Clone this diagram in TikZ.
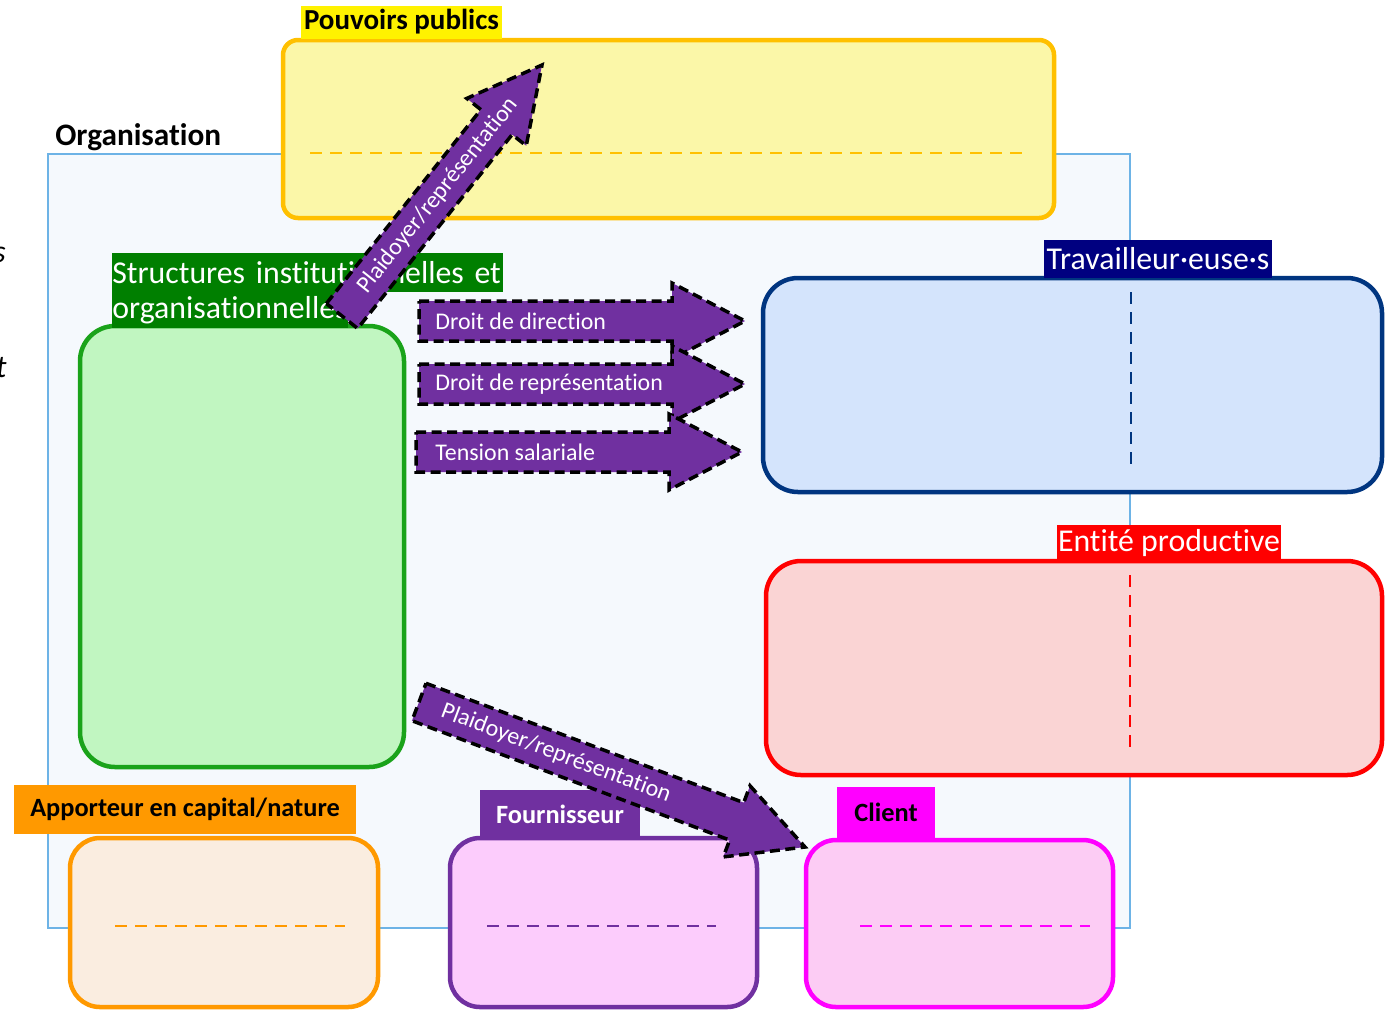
\documentclass[tikz,border=0pt]{standalone}
\usepackage{fontspec}
\setmainfont{Carlito}[Ligatures=NoCommon]
\usepackage{xcolor}
\usetikzlibrary{calc,fit,positioning}
\definecolor{OrgFill}{HTML}{F5F9FD}
\definecolor{OrgLine}{HTML}{6DB3E6}
\definecolor{PouvoirsLine}{HTML}{FFC000}
\definecolor{PouvoirsFill}{HTML}{FBF7A8}
\definecolor{StructLine}{HTML}{1AA31A}
\definecolor{StructFill}{HTML}{C1F6C1}
\definecolor{StructTag}{HTML}{007F00}
\definecolor{TravLine}{HTML}{003580}
\definecolor{TravFill}{HTML}{D4E4FC}
\definecolor{TravTag}{HTML}{000080}
\definecolor{EntLine}{HTML}{FF0000}
\definecolor{EntFill}{HTML}{FAD4D4}
\definecolor{AppLine}{HTML}{FF9900}
\definecolor{AppFill}{HTML}{FAEDE0}
\definecolor{FourLine}{HTML}{7030A0}
\definecolor{FourFill}{HTML}{FCCCFC}
\definecolor{ClientLine}{HTML}{FF00FF}
\definecolor{ClientFill}{HTML}{FCCCF4}
\colorlet{ArrowFill}{FourLine}
\newcommand{\ArrowBody}{4mm}
\newcommand{\ArrowHead}{7.6mm}
\newcommand{\ArrowTipLen}{14.6mm}
\newcommand{\PlaceBox}[6]{%
  % #1 name, #2-#3 top left, #4-#5 bottom right, #6 style
  \node[#6,fit={(#2,#3) (#4,#5)}] (#1) {};
}
\newcommand{\BlockArrow}[3]{%
  % #1 prefix, #2 tail, #3 tip
  \coordinate (#1head) at ($(#3)!\ArrowTipLen!(#2)$);
  \filldraw[blockarrow] ($(#2)!\ArrowBody!90:(#3)$) -- ($(#1head)!\ArrowBody!90:(#3)$)
    -- ($(#1head)!\ArrowHead!90:(#3)$) -- (#3) -- ($(#1head)!\ArrowHead!-90:(#3)$)
    -- ($(#1head)!\ArrowBody!-90:(#3)$) -- ($(#2)!\ArrowBody!-90:(#3)$) -- cycle;
}

\begin{document}
\begin{tikzpicture}[
  x=0.2mm, y=-0.2mm,
  actor/.style={line width=0.9mm,rounded corners=7mm,inner sep=0pt},
  tagbox/.style={inner sep=0pt,font=\bfseries\fontsize{15}{18}\selectfont},
  bigtag/.style={inner sep=0pt,text=white,font=\fontsize{18.1}{22}\selectfont},
  dashline/.style={line width=0.4mm,dash pattern=on 2.4mm off 1.6mm},
  blockarrow/.style={fill=ArrowFill,draw=black,line width=0.7mm,dash pattern=on 2mm off 1.1mm},
  arrowtext/.style={inner sep=0pt,text=white,font=\fontsize{13.6}{16}\selectfont}
]
\useasboundingbox (0,0) rectangle (1398,1011);

% Cut-off text at the left edge
\node[inner sep=0pt,anchor=base east,font=\itshape\fontsize{18.1}{22}\selectfont] (fragS) at (6,262) {s};
\node[inner sep=0pt,anchor=base east,font=\itshape\fontsize{18.1}{22}\selectfont] (fragT) at (7,377) {t};

% Organisation frame
\PlaceBox{org}{48}{154}{1130}{928}{draw=OrgLine,fill=OrgFill,line width=0.4mm,inner sep=0pt}
\node[inner sep=0pt,anchor=base west,font=\bfseries\fontsize{17.8}{21}\selectfont] (orglabel) at (55,145) {Organisation};

% Boxes
\PlaceBox{pouvoirs}{283}{40}{1054}{218}{actor,draw=PouvoirsLine,fill=PouvoirsFill,rounded corners=3mm}
\PlaceBox{structures}{80}{326}{404}{767}{actor,draw=StructLine,fill=StructFill}
\PlaceBox{trav}{763}{278}{1382}{492}{actor,draw=TravLine,fill=TravFill}
\PlaceBox{entite}{766}{561}{1382}{775}{actor,draw=EntLine,fill=EntFill}
\PlaceBox{apporteur}{70}{838}{378}{1007}{actor,draw=AppLine,fill=AppFill,rounded corners=6mm}
\PlaceBox{fournisseur}{450}{838}{757}{1007}{actor,draw=FourLine,fill=FourFill,rounded corners=6mm}
\PlaceBox{client}{806}{840}{1113}{1007}{actor,draw=ClientLine,fill=ClientFill,rounded corners=6mm}

% Dashed separators
\draw[dashline,PouvoirsLine] (310,153) -- (1030,153);
\draw[dashline,TravLine] (1131,292) -- (1131,472);
\draw[dashline,EntLine] (1130,575) -- (1130,755);
\draw[dashline,AppLine] (115,926) -- (345,926);
\draw[dashline,FourLine] (487,926) -- (716,926);
\draw[dashline,ClientLine] (860,926) -- (1090,926);

% Labels
\node[tagbox,fill=yellow,minimum width=40.2mm,minimum height=6.6mm,font=\bfseries\fontsize{16.5}{20}\selectfont] (pouvoirslabel) at (401.5,22) {Pouvoirs publics};
\node[bigtag,fill=StructTag,anchor=west,text width=78.2mm,align=left,minimum height=7.8mm] (structlabelA) at (112,272.5) {Structures institutionnelles et};
\node[bigtag,fill=StructTag,anchor=west,minimum height=7.2mm] (structlabelB) at (112,310) {organisationnelles};
\node[bigtag,fill=TravTag,minimum width=45.6mm,minimum height=7.6mm] (travlabel) at (1158,259) {Travailleur·euse·s};
\node[bigtag,fill=EntLine,minimum width=44.8mm,minimum height=7.2mm] (entitelabel) at (1169,543) {Entité productive};
\node[tagbox,fill=AppLine,minimum width=68.4mm,minimum height=9.8mm] (apporteurlabel) at (185,809.5) {Apporteur en capital/nature};
\node[tagbox,fill=FourLine,text=white,minimum width=32mm,minimum height=9.6mm] (fournisseurlabel) at (560,814) {Fournisseur};
\node[tagbox,fill=ClientLine,minimum width=19.6mm,minimum height=10.2mm] (clientlabel) at (886,812.5) {Client};

% Block arrows
\coordinate (dtail) at (419,321);  \coordinate (dtip) at (745,321);
\coordinate (rtail) at (419,384);  \coordinate (rtip) at (745,384);
\coordinate (stail) at (416,452);  \coordinate (stip) at (742,452);
\coordinate (ptail) at (342,316);  \coordinate (ptip) at (542,65);
\coordinate (qtail) at (419,702);  \coordinate (qtip) at (805,847);

\BlockArrow{d}{dtail}{dtip}
\BlockArrow{r}{rtail}{rtip}
\BlockArrow{s}{stail}{stip}
\BlockArrow{p}{ptail}{ptip}
\BlockArrow{q}{qtail}{qtip}

\node[arrowtext,anchor=west] (direction) at ($(dtail)+(16,0)$) {Droit de direction};
\node[arrowtext,anchor=west] (representation) at ($(rtail)+(16,0)$) {Droit de représentation};
\node[arrowtext,anchor=west] (tension) at ($(stail)+(19,0)$) {Tension salariale};
\path (ptail) -- node[arrowtext,sloped,pos=0.48] (plaidoyerhaut) {Plaidoyer/représentation} (ptip);
\path (qtail) -- node[arrowtext,sloped,pos=0.355] (plaidoyerbas) {Plaidoyer/représentation} (qtip);

\end{tikzpicture}
\end{document}
